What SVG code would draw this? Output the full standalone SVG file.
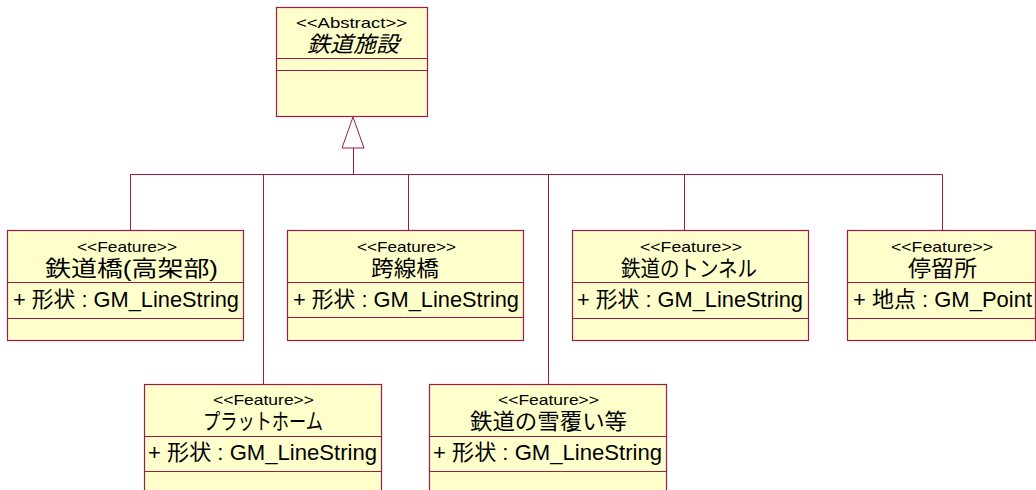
<svg xmlns="http://www.w3.org/2000/svg" width="1036" height="490" viewBox="0 0 1036 490">
  <style>
    .box { fill: #FFFFCC; stroke: #A01A48; stroke-width: 1.2; }
    .sep { stroke: #A01A48; stroke-width: 1.2; fill: none; }
    .conn { stroke: #A01A48; stroke-width: 1; fill: none; }
    .stereo { font-family: "Liberation Sans", "Noto Sans CJK JP", sans-serif; font-size: 15px; fill: #000; }
    .title { font-family: "Liberation Sans", "Noto Sans CJK JP", sans-serif; font-size: 22px; fill: #000; }
    .attr { font-family: "Liberation Sans", "Noto Sans CJK JP", sans-serif; font-size: 22px; fill: #000; }
    .abstract { font-style: italic; }
  </style>

  <!-- generalization connectors -->
  <g id="connectors">
    <polygon points="353,117 342,148 364,148" fill="#FFFFFF" stroke="#A01A48" stroke-width="1"/>
    <path class="conn" d="M353.5,148 V174.5 M130.5,174.5 H942.5 M130.5,174.5 V230 M263.5,174.5 V384 M408.5,174.5 V230 M548.5,174.5 V384 M684.5,174.5 V230 M942.5,174.5 V230"/>
  </g>

  <!-- abstract superclass -->
  <g id="railway-facility">
    <rect class="box" x="276.5" y="7.5" width="151" height="109"/>
    <line class="sep" x1="276.5" y1="58.5" x2="427.5" y2="58.5"/>
    <line class="sep" x1="276.5" y1="70.5" x2="427.5" y2="70.5"/>
    <text class="stereo" x="296" y="28" textLength="111" lengthAdjust="spacingAndGlyphs">&lt;&lt;Abstract&gt;&gt;</text>
    <text class="title abstract" x="307" y="52" textLength="92" lengthAdjust="spacingAndGlyphs">鉄道施設</text>
  </g>

  <g id="railway-bridge">
    <rect class="box" x="7.5" y="230.5" width="236" height="110"/>
    <line class="sep" x1="7.5" y1="282.5" x2="243.5" y2="282.5"/>
    <line class="sep" x1="7.5" y1="318.5" x2="243.5" y2="318.5"/>
    <text class="stereo" x="77" y="252" textLength="100" lengthAdjust="spacingAndGlyphs">&lt;&lt;Feature&gt;&gt;</text>
    <text class="title" x="45" y="276" textLength="173" lengthAdjust="spacingAndGlyphs">鉄道橋(高架部)</text>
    <text class="attr" x="13" y="307" textLength="226" lengthAdjust="spacingAndGlyphs">+ 形状 : GM_LineString</text>
  </g>

  <g id="overpass">
    <rect class="box" x="287.5" y="230.5" width="236" height="110"/>
    <line class="sep" x1="287.5" y1="282.5" x2="523.5" y2="282.5"/>
    <line class="sep" x1="287.5" y1="317.5" x2="523.5" y2="317.5"/>
    <text class="stereo" x="357" y="252" textLength="99" lengthAdjust="spacingAndGlyphs">&lt;&lt;Feature&gt;&gt;</text>
    <text class="title" x="371" y="276" textLength="68" lengthAdjust="spacingAndGlyphs">跨線橋</text>
    <text class="attr" x="293" y="307" textLength="226" lengthAdjust="spacingAndGlyphs">+ 形状 : GM_LineString</text>
  </g>

  <g id="railway-tunnel">
    <rect class="box" x="572.5" y="230.5" width="236" height="110"/>
    <line class="sep" x1="572.5" y1="282.5" x2="808.5" y2="282.5"/>
    <line class="sep" x1="572.5" y1="318.5" x2="808.5" y2="318.5"/>
    <text class="stereo" x="640" y="252" textLength="102" lengthAdjust="spacingAndGlyphs">&lt;&lt;Feature&gt;&gt;</text>
    <text class="title" x="621" y="276" textLength="136" lengthAdjust="spacingAndGlyphs">鉄道のトンネル</text>
    <text class="attr" x="577" y="307" textLength="226" lengthAdjust="spacingAndGlyphs">+ 形状 : GM_LineString</text>
  </g>

  <g id="stop">
    <rect class="box" x="847.5" y="230.5" width="188" height="110"/>
    <line class="sep" x1="847.5" y1="282.5" x2="1035.5" y2="282.5"/>
    <line class="sep" x1="847.5" y1="318.5" x2="1035.5" y2="318.5"/>
    <text class="stereo" x="891" y="252" textLength="102" lengthAdjust="spacingAndGlyphs">&lt;&lt;Feature&gt;&gt;</text>
    <text class="title" x="908" y="276" textLength="69" lengthAdjust="spacingAndGlyphs">停留所</text>
    <text class="attr" x="853" y="307" textLength="179" lengthAdjust="spacingAndGlyphs">+ 地点 : GM_Point</text>
  </g>

  <g id="platform">
    <rect class="box" x="144.5" y="384.5" width="237" height="120"/>
    <line class="sep" x1="144.5" y1="436.5" x2="381.5" y2="436.5"/>
    <line class="sep" x1="144.5" y1="471.5" x2="381.5" y2="471.5"/>
    <text class="stereo" x="213" y="405" textLength="101" lengthAdjust="spacingAndGlyphs">&lt;&lt;Feature&gt;&gt;</text>
    <text class="title" x="203" y="429" textLength="120" lengthAdjust="spacingAndGlyphs">プラットホーム</text>
    <text class="attr" x="148" y="460" textLength="229" lengthAdjust="spacingAndGlyphs">+ 形状 : GM_LineString</text>
  </g>

  <g id="snow-shed">
    <rect class="box" x="429.5" y="384.5" width="237" height="120"/>
    <line class="sep" x1="429.5" y1="436.5" x2="666.5" y2="436.5"/>
    <line class="sep" x1="429.5" y1="471.5" x2="666.5" y2="471.5"/>
    <text class="stereo" x="498" y="405" textLength="101" lengthAdjust="spacingAndGlyphs">&lt;&lt;Feature&gt;&gt;</text>
    <text class="title" x="470" y="429" textLength="157" lengthAdjust="spacingAndGlyphs">鉄道の雪覆い等</text>
    <text class="attr" x="433" y="460" textLength="229" lengthAdjust="spacingAndGlyphs">+ 形状 : GM_LineString</text>
  </g>
</svg>
